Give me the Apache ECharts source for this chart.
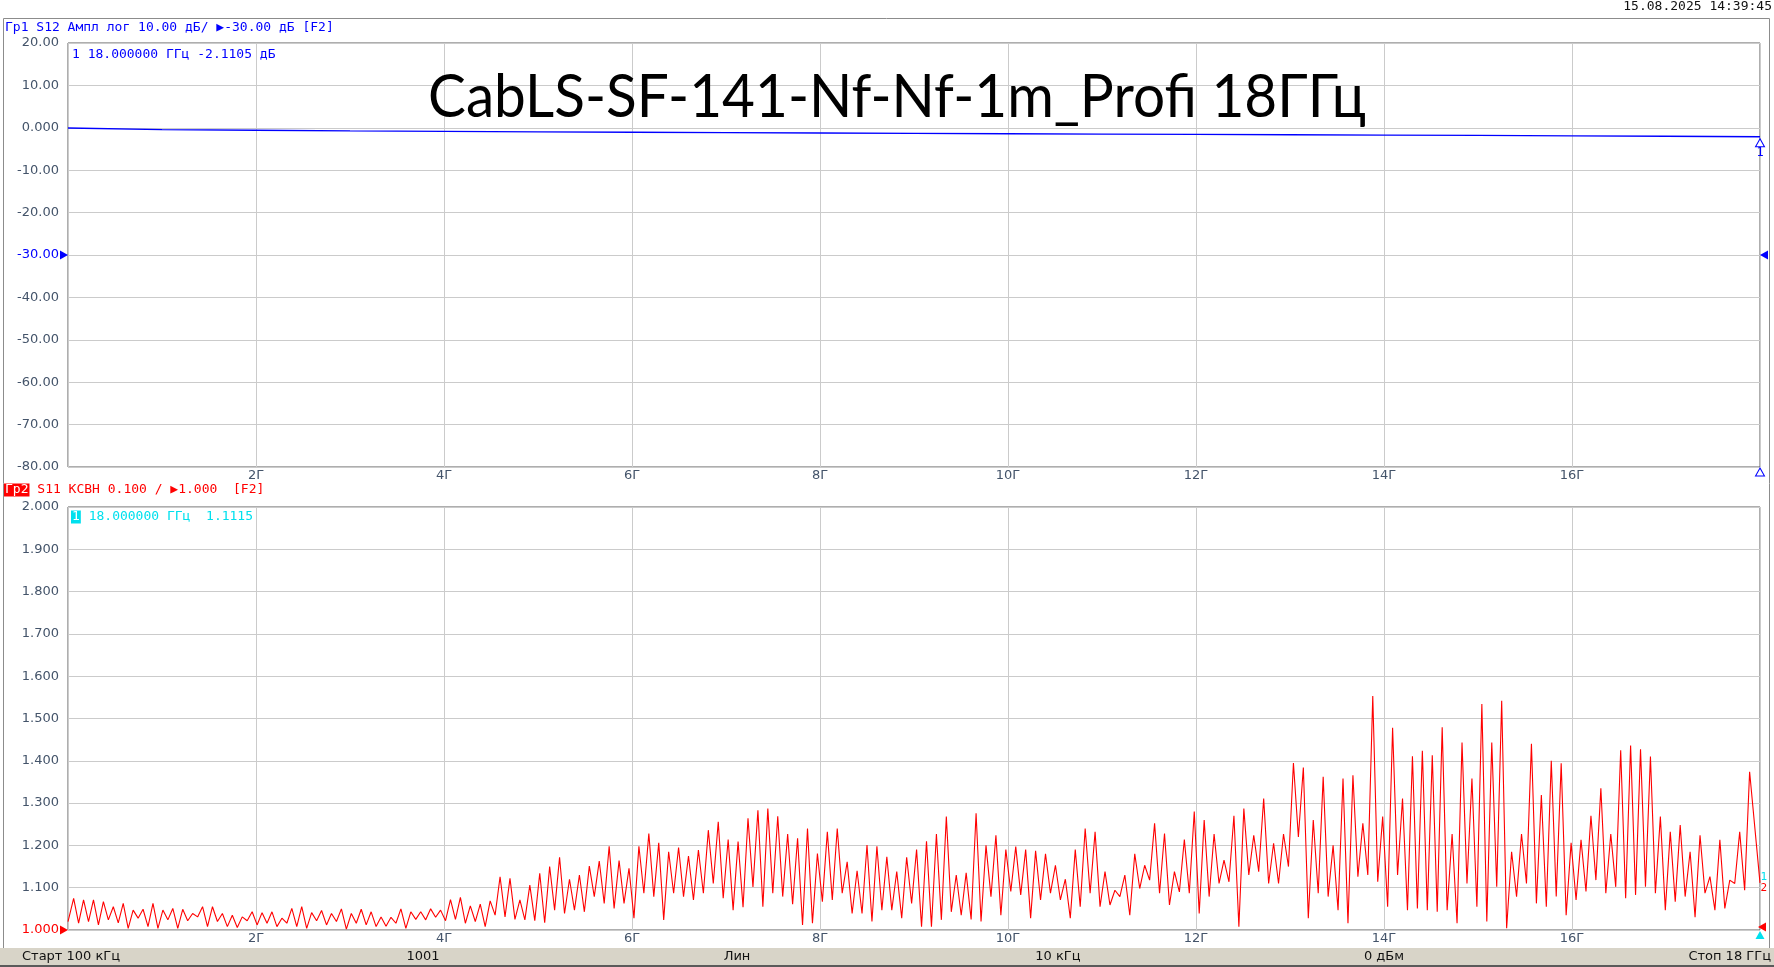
<!DOCTYPE html>
<html>
<head>
<meta charset="utf-8">
<title>CabLS-SF-141-Nf-Nf-1m_Profi 18ГГц</title>
<script src="https://cdn.jsdelivr.net/npm/echarts@6/dist/echarts.min.js"></script>
<style>
  html, body { margin: 0; padding: 0; background: #ffffff; }
  #chart { width: 1774px; height: 967px; }
</style>
</head>
<body>
<div id="chart"></div>
<script>
// x axis: sweep 100 kHz .. 18 GHz
const freqTickLabels = ['', '2Г', '4Г', '6Г', '8Г', '10Г', '12Г', '14Г', '16Г', ''];

// Гр1: S12, dB
const s12TickLabels = ['20.00', '10.00', '0.000', '-10.00', '-20.00', '-30.00', '-40.00', '-50.00', '-60.00', '-70.00', '-80.00'];
const s12Freq = [0, 1, 2, 3, 4, 5, 6, 7, 8, 9, 10, 11, 12, 13, 14, 15, 16, 17, 18];
const s12Db = [-0.05, -0.42, -0.58, -0.72, -0.84, -0.95, -1.05, -1.14, -1.23, -1.31, -1.40, -1.48, -1.56, -1.64, -1.73, -1.81, -1.90, -1.99, -2.11];

// Гр2: S11, VSWR. ripple peaks / troughs
const s11TickLabels = ['2.000', '1.900', '1.800', '1.700', '1.600', '1.500', '1.400', '1.300', '1.200', '1.100', '1.000'];
const s11Start = 1.02;
const s11End = 1.1115;
const s11FirstPeak = 0.06;   // GHz
const s11Period = 0.1055;    // GHz between ripple peaks
const s11Peaks = [
  1.075, 1.071, 1.071, 1.067, 1.055, 1.063, 1.047, 1.049, 1.063, 1.047,
  1.051, 1.049, 1.039, 1.055, 1.055, 1.039, 1.035, 1.031, 1.043, 1.041,
  1.043, 1.028, 1.051, 1.055, 1.041, 1.046, 1.039, 1.050, 1.039, 1.049,
  1.043, 1.031, 1.030, 1.050, 1.043, 1.043, 1.050, 1.047, 1.072, 1.077,
  1.057, 1.061, 1.069, 1.126, 1.122, 1.071, 1.106, 1.134, 1.150, 1.172,
  1.120, 1.130, 1.151, 1.163, 1.198, 1.164, 1.146, 1.198, 1.228, 1.206,
  1.185, 1.195, 1.175, 1.189, 1.236, 1.256, 1.214, 1.209, 1.264, 1.283,
  1.287, 1.269, 1.227, 1.217, 1.240, 1.181, 1.232, 1.240, 1.161, 1.140,
  1.201, 1.198, 1.173, 1.138, 1.172, 1.190, 1.210, 1.227, 1.268, 1.130,
  1.135, 1.276, 1.200, 1.224, 1.190, 1.197, 1.190, 1.187, 1.180, 1.153,
  1.120, 1.190, 1.240, 1.232, 1.138, 1.094, 1.130, 1.180, 1.153, 1.252,
  1.228, 1.138, 1.214, 1.280, 1.260, 1.227, 1.165, 1.270, 1.287, 1.224,
  1.311, 1.205, 1.227, 1.395, 1.384, 1.260, 1.362, 1.200, 1.358, 1.366,
  1.252, 1.553, 1.268, 1.478, 1.311, 1.411, 1.424, 1.413, 1.479, 1.227,
  1.443, 1.358, 1.534, 1.443, 1.542, 1.185, 1.227, 1.440, 1.319, 1.400,
  1.394, 1.206, 1.213, 1.270, 1.335, 1.227, 1.425, 1.436, 1.427, 1.410,
  1.268, 1.232, 1.248, 1.185, 1.224, 1.126, 1.213, 1.118, 1.232, 1.374
];
const s11Troughs = [
  1.016, 1.020, 1.012, 1.024, 1.017, 1.004, 1.028, 1.008, 1.004, 1.024,
  1.004, 1.022, 1.031, 1.008, 1.020, 1.008, 1.006, 1.022, 1.012, 1.016,
  1.008, 1.016, 1.008, 1.004, 1.022, 1.012, 1.020, 1.002, 1.016, 1.012,
  1.008, 1.009, 1.016, 1.004, 1.025, 1.024, 1.030, 1.022, 1.025, 1.016,
  1.020, 1.008, 1.035, 1.031, 1.025, 1.024, 1.022, 1.017, 1.047, 1.039,
  1.047, 1.043, 1.079, 1.063, 1.051, 1.063, 1.028, 1.087, 1.079, 1.024,
  1.087, 1.079, 1.071, 1.087, 1.110, 1.075, 1.047, 1.054, 1.102, 1.055,
  1.087, 1.079, 1.061, 1.012, 1.016, 1.067, 1.071, 1.087, 1.039, 1.039,
  1.020, 1.047, 1.047, 1.028, 1.063, 1.008, 1.008, 1.024, 1.043, 1.035,
  1.025, 1.020, 1.079, 1.035, 1.091, 1.083, 1.028, 1.071, 1.087, 1.071,
  1.028, 1.055, 1.087, 1.055, 1.059, 1.079, 1.035, 1.098, 1.118, 1.087,
  1.059, 1.090, 1.087, 1.039, 1.079, 1.110, 1.114, 1.008, 1.130, 1.138,
  1.110, 1.110, 1.150, 1.220, 1.028, 1.087, 1.079, 1.047, 1.016, 1.126,
  1.130, 1.114, 1.055, 1.130, 1.047, 1.051, 1.047, 1.043, 1.047, 1.016,
  1.110, 1.055, 1.020, 1.102, 1.004, 1.079, 1.110, 1.063, 1.055, 1.079,
  1.035, 1.071, 1.091, 1.118, 1.087, 1.102, 1.075, 1.083, 1.102, 1.087,
  1.047, 1.067, 1.079, 1.030, 1.087, 1.047, 1.051, 1.110, 1.094
];

const BLUE = '#0000ff';
const RED = '#ff0000';
const CYAN = '#00e0ee';
const AXIS_TEXT = '#44546a';
const GRID_LINE = '#cbcbcb';
const MONO = 'DejaVu Sans Mono';
const SANS = 'DejaVu Sans';

function s12Data () {
  return s12Freq.map((f, i) => [f, s12Db[i]]);
}

function s11Data () {
  const pts = [[0, s11Start]];
  s11Peaks.forEach((v, k) => {
    const f = s11FirstPeak + k * s11Period;
    pts.push([f, v]);
    if (k < s11Troughs.length) {
      pts.push([f + s11Period / 2, s11Troughs[k]]);
    }
  });
  pts.push([18, s11End]);
  return pts;
}

function tri (coord, rotate, offset, color, hollow) {
  return {
    coord: coord,
    symbol: 'triangle',
    symbolSize: [9, 8],
    symbolRotate: rotate,
    symbolOffset: offset,
    itemStyle: hollow
      ? { color: '#ffffff', borderColor: color, borderWidth: 1 }
      : { color: color, borderWidth: 0 },
    label: { show: false }
  };
}

function xAxisCfg (gridIndex) {
  return {
    type: 'value',
    gridIndex: gridIndex,
    min: 0,
    max: 18,
    interval: 2,
    axisLine: { show: false },
    axisTick: { show: false },
    splitLine: { show: true, lineStyle: { color: GRID_LINE, width: 1 } },
    axisLabel: {
      margin: 2,
      color: AXIS_TEXT,
      fontFamily: SANS,
      fontSize: 13,
      formatter: (v) => freqTickLabels[Math.round(v / 2)] || ''
    }
  };
}

// measure title so its width matches the reference
function titleScale (text, font, target) {
  const ctx = document.createElement('canvas').getContext('2d');
  ctx.font = font;
  const w = ctx.measureText(text).width;
  return w > 0 ? target / w : 1;
}

const titleText = 'CabLS-SF-141-Nf-Nf-1m_Profi 18ГГц';
const titleFont = '60px Lato';

const chart = echarts.init(document.getElementById('chart'), null, { renderer: 'canvas' });

const option = {
  animation: false,
  backgroundColor: '#ffffff',
  grid: [
    { left: 68, top: 43, width: 1692, height: 424, show: true, borderColor: '#5c5c5c', borderWidth: 1, backgroundColor: 'transparent' },
    { left: 68, top: 507, width: 1692, height: 423, show: true, borderColor: '#5c5c5c', borderWidth: 1, backgroundColor: 'transparent' }
  ],
  xAxis: [xAxisCfg(0), xAxisCfg(1)],
  yAxis: [
    {
      type: 'value',
      gridIndex: 0,
      min: -80,
      max: 20,
      interval: 10,
      axisLine: { show: false },
      axisTick: { show: false },
      splitLine: { show: true, lineStyle: { color: GRID_LINE, width: 1 } },
      axisLabel: {
        margin: 9,
        color: AXIS_TEXT,
        fontFamily: SANS,
        fontSize: 13,
        formatter: (v) => {
          const s = s12TickLabels[Math.round((20 - v) / 10)];
          return v === -30 ? '{ref|' + s + '}' : s;
        },
        rich: { ref: { color: BLUE, fontFamily: SANS, fontSize: 13 } }
      }
    },
    {
      type: 'value',
      gridIndex: 1,
      min: 1,
      max: 2,
      interval: 0.1,
      axisLine: { show: false },
      axisTick: { show: false },
      splitLine: { show: true, lineStyle: { color: GRID_LINE, width: 1 } },
      axisLabel: {
        margin: 9,
        color: AXIS_TEXT,
        fontFamily: SANS,
        fontSize: 13,
        formatter: (v) => {
          const s = s11TickLabels[Math.round((2 - v) * 10)];
          return Math.abs(v - 1) < 1e-6 ? '{ref|' + s + '}' : s;
        },
        rich: { ref: { color: RED, fontFamily: SANS, fontSize: 13 } }
      }
    }
  ],
  series: [
    {
      name: 'S12',
      type: 'line',
      xAxisIndex: 0,
      yAxisIndex: 0,
      data: s12Data(),
      showSymbol: false,
      lineStyle: { color: BLUE, width: 1.3 },
      itemStyle: { color: BLUE },
      markPoint: {
        silent: true,
        data: [
          tri([0, -30], -90, [-4, 0], BLUE, false),
          tri([18, -30], 90, [4, 0], BLUE, false),
          tri([18, -80], 0, [0, 5], BLUE, true),
          Object.assign(tri([18, -2.11], 0, [0, 6], BLUE, true), {
            label: { show: true, formatter: '1', position: 'bottom', distance: 0, color: BLUE, fontFamily: MONO, fontSize: 12 }
          })
        ]
      }
    },
    {
      name: 'S11',
      type: 'line',
      xAxisIndex: 1,
      yAxisIndex: 1,
      data: s11Data(),
      showSymbol: false,
      lineStyle: { color: RED, width: 1.1 },
      itemStyle: { color: RED },
      markPoint: {
        silent: true,
        data: [
          tri([0, 1], -90, [-4, 0], RED, false),
          tri([18, 1], 0, [0, 5], CYAN, false),
          tri([18, 1], 90, [2, -3], RED, false),
          {
            coord: [18, 1.1115],
            symbol: 'rect',
            symbolSize: 1,
            itemStyle: { color: 'transparent' },
            label: {
              show: true,
              formatter: '{c|1}\n{r|2}',
              position: 'right',
              distance: 0,
              lineHeight: 11,
              rich: {
                c: { color: CYAN, fontFamily: MONO, fontSize: 11 },
                r: { color: RED, fontFamily: MONO, fontSize: 11 }
              }
            }
          }
        ]
      }
    }
  ],
  graphic: [
    // window frame
    { type: 'rect', z: 0, shape: { x: 3.5, y: 18.5, width: 1766, height: 930 }, style: { fill: 'none', stroke: '#8c8c8c', lineWidth: 1 } },
    // status bar
    { type: 'rect', z: 1, shape: { x: 0, y: 948, width: 1774, height: 17 }, style: { fill: '#d8d4c8' } },
    { type: 'rect', z: 1, shape: { x: 0, y: 965, width: 1774, height: 2 }, style: { fill: '#5a5a5a' } },
    { type: 'text', z: 2, x: 22, y: 957, style: { text: 'Старт 100 кГц', fill: '#111', font: '13px "DejaVu Sans"', verticalAlign: 'middle' } },
    { type: 'text', z: 2, x: 423, y: 957, style: { text: '1001', fill: '#111', font: '13px "DejaVu Sans"', align: 'center', verticalAlign: 'middle' } },
    { type: 'text', z: 2, x: 737, y: 957, style: { text: 'Лин', fill: '#111', font: '13px "DejaVu Sans"', align: 'center', verticalAlign: 'middle' } },
    { type: 'text', z: 2, x: 1058, y: 957, style: { text: '10 кГц', fill: '#111', font: '13px "DejaVu Sans"', align: 'center', verticalAlign: 'middle' } },
    { type: 'text', z: 2, x: 1384, y: 957, style: { text: '0 дБм', fill: '#111', font: '13px "DejaVu Sans"', align: 'center', verticalAlign: 'middle' } },
    { type: 'text', z: 2, x: 1771, y: 957, style: { text: 'Стоп 18 ГГц', fill: '#111', font: '13px "DejaVu Sans"', align: 'right', verticalAlign: 'middle' } },
    // date
    { type: 'text', z: 2, x: 1772, y: 7, style: { text: '15.08.2025 14:39:45', fill: '#111', font: '13px "DejaVu Sans Mono"', align: 'right', verticalAlign: 'middle' } },
    // trace headers
    { type: 'text', z: 2, x: 5, y: 28, style: { text: 'Гр1 S12 Ампл лог 10.00 дБ/ ▶-30.00 дБ [F2]', fill: BLUE, font: '13px "DejaVu Sans Mono"', verticalAlign: 'middle' } },
    { type: 'text', z: 2, x: 72, y: 55, style: { text: '1 18.000000 ГГц -2.1105 дБ', fill: BLUE, font: '13px "DejaVu Sans Mono"', verticalAlign: 'middle' } },
    {
      type: 'text', z: 2, x: 4, y: 490,
      style: {
        text: '{a|Гр2} S11 КСВН 0.100 / ▶1.000  [F2]',
        fill: RED, font: '13px "DejaVu Sans Mono"', verticalAlign: 'middle',
        rich: { a: { backgroundColor: RED, fill: '#ffffff', font: '13px "DejaVu Sans Mono"', padding: [0, 1, 0, 1] } }
      }
    },
    {
      type: 'text', z: 2, x: 71, y: 517,
      style: {
        text: '{b|1} 18.000000 ГГц  1.1115',
        fill: CYAN, font: '13px "DejaVu Sans Mono"', verticalAlign: 'middle',
        rich: { b: { backgroundColor: CYAN, fill: '#ffffff', font: '13px "DejaVu Sans Mono"', padding: [0, 1, 0, 1] } }
      }
    },
    // title
    {
      type: 'text', z: 3, x: 897, y: 98,
      scaleX: titleScale(titleText, titleFont, 938),
      style: { text: titleText, fill: '#000000', font: titleFont, align: 'center', verticalAlign: 'middle' }
    }
  ]
};

chart.setOption(option);
</script>
</body>
</html>
